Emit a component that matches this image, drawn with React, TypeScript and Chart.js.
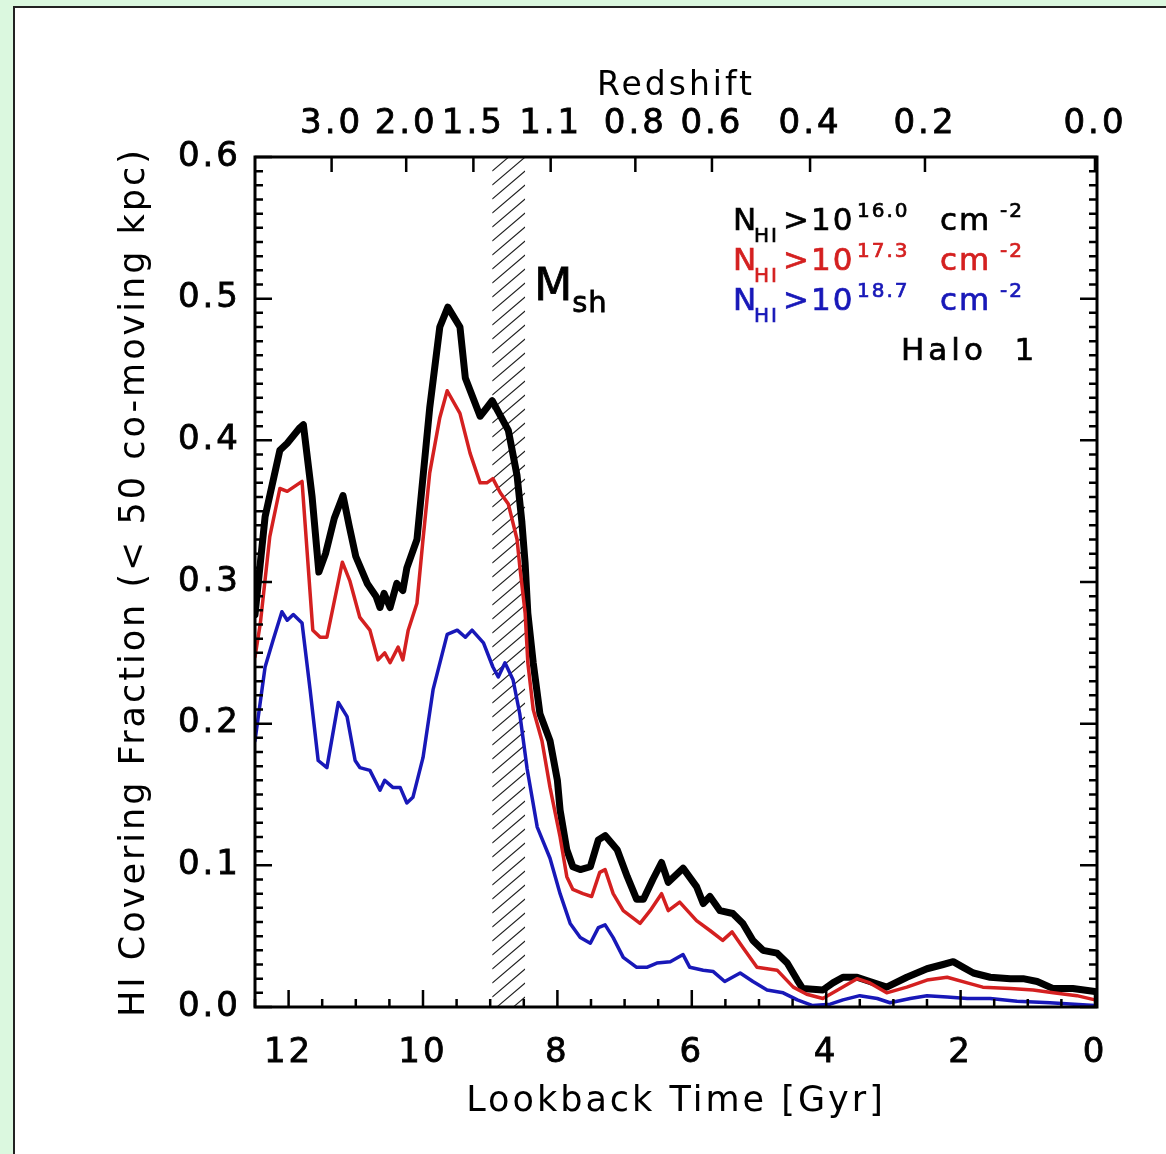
import React, { useEffect, useRef } from 'react';
import { Chart, registerables } from 'chart.js';

Chart.register(...registerables);

// ---- data (lookback time in Gyr, covering fraction) ----
const blackTime = [12.5, 12.35, 12.13, 12.02, 11.83, 11.78, 11.65, 11.55, 11.45, 11.32, 11.19, 11.1, 11.0, 10.83, 10.7, 10.64, 10.58, 10.49, 10.39, 10.3, 10.24, 10.09, 9.9, 9.75, 9.63, 9.45, 9.37, 9.15, 9.05, 8.97, 8.73, 8.6, 8.53, 8.48, 8.44, 8.36, 8.26, 8.11, 8.0, 7.96, 7.86, 7.77, 7.66, 7.51, 7.39, 7.29, 7.11, 6.96, 6.82, 6.72, 6.58, 6.45, 6.35, 6.13, 5.93, 5.83, 5.73, 5.58, 5.39, 5.24, 5.09, 4.94, 4.73, 4.58, 4.43, 4.35, 4.05, 3.9, 3.75, 3.54, 3.35, 3.1, 2.8, 2.5, 2.26, 2.11, 1.96, 1.81, 1.56, 1.26, 1.07, 0.86, 0.62, 0.33, 0.0];
const blackFrac = [0.277, 0.346, 0.393, 0.398, 0.409, 0.411, 0.36, 0.307, 0.32, 0.345, 0.361, 0.34, 0.318, 0.299, 0.29, 0.282, 0.292, 0.282, 0.299, 0.294, 0.31, 0.33, 0.423, 0.48, 0.494, 0.48, 0.444, 0.417, 0.423, 0.428, 0.407, 0.375, 0.343, 0.313, 0.278, 0.243, 0.207, 0.188, 0.16, 0.139, 0.111, 0.099, 0.097, 0.099, 0.118, 0.121, 0.111, 0.092, 0.076, 0.076, 0.09, 0.102, 0.088, 0.098, 0.085, 0.073, 0.078, 0.068, 0.066, 0.059, 0.047, 0.04, 0.038, 0.031, 0.019, 0.013, 0.012, 0.017, 0.021, 0.021, 0.018, 0.014, 0.021, 0.027, 0.03, 0.032, 0.028, 0.024, 0.021, 0.02, 0.02, 0.018, 0.013, 0.013, 0.011];

const redTime = [12.5, 12.42, 12.28, 12.13, 12.02, 11.8, 11.64, 11.53, 11.43, 11.2, 11.09, 10.94, 10.79, 10.67, 10.57, 10.49, 10.37, 10.3, 10.22, 10.09, 10.0, 9.9, 9.75, 9.64, 9.45, 9.3, 9.15, 9.05, 8.96, 8.85, 8.73, 8.6, 8.56, 8.48, 8.44, 8.36, 8.23, 8.11, 7.96, 7.86, 7.77, 7.62, 7.49, 7.37, 7.29, 7.17, 7.02, 6.77, 6.62, 6.45, 6.35, 6.18, 5.93, 5.73, 5.54, 5.4, 5.24, 5.03, 4.73, 4.49, 4.29, 4.05, 3.79, 3.54, 3.35, 3.1, 2.8, 2.5, 2.2, 1.9, 1.67, 1.26, 0.92, 0.62, 0.27, 0.0];
const redFrac = [0.247, 0.271, 0.332, 0.366, 0.364, 0.371, 0.266, 0.261, 0.261, 0.314, 0.301, 0.275, 0.266, 0.245, 0.25, 0.243, 0.254, 0.245, 0.266, 0.285, 0.33, 0.377, 0.416, 0.435, 0.419, 0.391, 0.37, 0.37, 0.373, 0.363, 0.355, 0.33, 0.311, 0.278, 0.243, 0.21, 0.188, 0.155, 0.12, 0.092, 0.083, 0.08, 0.078, 0.095, 0.097, 0.08, 0.068, 0.059, 0.068, 0.08, 0.068, 0.074, 0.061, 0.054, 0.047, 0.053, 0.042, 0.028, 0.026, 0.014, 0.009, 0.006, 0.013, 0.02, 0.017, 0.01, 0.014, 0.019, 0.021, 0.017, 0.014, 0.013, 0.012, 0.01, 0.008, 0.005];

const blueTime = [12.5, 12.35, 12.23, 12.1, 12.02, 11.93, 11.8, 11.68, 11.56, 11.43, 11.26, 11.13, 11.01, 10.94, 10.79, 10.64, 10.57, 10.45, 10.34, 10.24, 10.15, 10.0, 9.85, 9.64, 9.49, 9.37, 9.27, 9.1, 8.96, 8.88, 8.78, 8.66, 8.56, 8.45, 8.3, 8.11, 7.96, 7.81, 7.66, 7.51, 7.39, 7.29, 7.17, 7.02, 6.82, 6.67, 6.52, 6.32, 6.13, 6.03, 5.83, 5.68, 5.51, 5.28, 5.09, 4.88, 4.64, 4.43, 4.2, 3.94, 3.75, 3.5, 3.24, 3.05, 2.75, 2.5, 2.2, 1.9, 1.56, 1.16, 0.67, 0.0];
const blueFrac = [0.188, 0.24, 0.259, 0.279, 0.273, 0.277, 0.271, 0.224, 0.174, 0.169, 0.215, 0.205, 0.174, 0.169, 0.167, 0.153, 0.16, 0.155, 0.155, 0.144, 0.148, 0.176, 0.224, 0.263, 0.266, 0.261, 0.266, 0.257, 0.24, 0.233, 0.243, 0.231, 0.207, 0.168, 0.127, 0.105, 0.08, 0.059, 0.049, 0.045, 0.056, 0.058, 0.049, 0.035, 0.028, 0.028, 0.031, 0.032, 0.037, 0.028, 0.026, 0.025, 0.018, 0.024, 0.018, 0.012, 0.01, 0.005, 0.001, 0.002, 0.005, 0.008, 0.006, 0.003, 0.006, 0.008, 0.007, 0.006, 0.006, 0.004, 0.003, 0.001];

const lookbackTicks = [12, 10, 8, 6, 4, 2, 0];
const redshiftLabels = ['3.0', '2.0', '1.5', '1.1', '0.8', '0.6', '0.4', '0.2', '0.0'];
const redshiftTimes = [11.36, 10.25, 9.25, 8.1, 6.84, 5.7, 4.24, 2.53, 0.0];
const hatchRange = [8.97, 8.48];
const legendExponents = ['16.0', '17.3', '18.7'];
const seriesColors = ['#000000', '#d42020', '#1818b8'];

const FONT = '"DejaVu Sans", sans-serif';

const toPoints = (t: number[], v: number[]) => t.map((x, i) => ({ x, y: v[i] }));

function drawLegendRow(ctx: CanvasRenderingContext2D, x0: number, y0: number, color: string, exp: string) {
  const big = `31px ${FONT}`;
  const small = `20px ${FONT}`;
  const pieces: [number, string, string, number][] = [
    [0, 'N', big, 0],
    [21, 'HI', small, 12],
    [50, '>10', big, 0],
    [124, exp, small, -13],
    [207, 'cm', big, 0],
    [267, '-2', small, -13],
  ];
  ctx.fillStyle = color;
  ctx.strokeStyle = color;
  ctx.lineWidth = 0.7;
  ctx.textAlign = 'left';
  ctx.textBaseline = 'alphabetic';
  for (const [dx, txt, font, dy] of pieces) {
    ctx.font = font;
    ctx.fillText(txt, x0 + dx, y0 + dy);
    ctx.strokeText(txt, x0 + dx, y0 + dy);
  }
}

const decorPlugin = {
  id: 'decor',
  beforeDraw(chart: any) {
    chart.ctx.letterSpacing = '3px';
  },
  beforeDatasetsDraw(chart: any) {
    const { ctx, chartArea: a, scales } = chart;
    const x = scales.x;
    const x1 = x.getPixelForValue(hatchRange[0]);
    const x2 = x.getPixelForValue(hatchRange[1]);
    const w = x2 - x1;
    const rise = w * 0.85;
    ctx.save();
    ctx.beginPath();
    ctx.rect(x1, a.top, w, a.bottom - a.top);
    ctx.clip();
    ctx.beginPath();
    for (let yy = a.top - rise; yy < a.bottom + rise; yy += 14) {
      ctx.moveTo(x1, yy + rise);
      ctx.lineTo(x2, yy);
    }
    ctx.strokeStyle = '#222';
    ctx.lineWidth = 1.1;
    ctx.stroke();
    ctx.restore();
  },
  afterDraw(chart: any) {
    const { ctx, chartArea: a, scales } = chart;
    const x = scales.x;
    const y = scales.y;
    ctx.save();
    ctx.strokeStyle = '#000';
    ctx.lineCap = 'butt';
    // ticks
    ctx.lineWidth = 2.5;
    ctx.beginPath();
    for (let i = 0; i <= 60; i++) {
      const py = y.getPixelForValue(i / 100);
      const len = i % 10 === 0 ? 17 : 8;
      ctx.moveTo(a.left, py);
      ctx.lineTo(a.left + len, py);
      ctx.moveTo(a.right, py);
      ctx.lineTo(a.right - len, py);
    }
    for (let i = 0; i <= 25; i++) {
      const t = i * 0.5;
      const px = x.getPixelForValue(t);
      const len = i % 4 === 0 ? 17 : 8;
      ctx.moveTo(px, a.bottom);
      ctx.lineTo(px, a.bottom - len);
    }
    for (const t of redshiftTimes) {
      const px = x.getPixelForValue(t);
      ctx.moveTo(px, a.top);
      ctx.lineTo(px, a.top + 15);
    }
    ctx.stroke();
    // frame
    ctx.lineWidth = 3;
    ctx.strokeRect(a.left, a.top, a.right - a.left, a.bottom - a.top);

    // M_sh label
    ctx.letterSpacing = '1px';
    ctx.fillStyle = '#000';
    ctx.strokeStyle = '#000';
    ctx.lineWidth = 0.8;
    ctx.textAlign = 'left';
    ctx.textBaseline = 'alphabetic';
    const hx = x.getPixelForValue(hatchRange[1]);
    ctx.font = `44px ${FONT}`;
    ctx.fillText('M', hx + 9, 300);
    ctx.strokeText('M', hx + 9, 300);
    ctx.font = `29px ${FONT}`;
    ctx.fillText('sh', hx + 47, 312);
    ctx.strokeText('sh', hx + 47, 312);

    // legend
    ctx.letterSpacing = '2px';
    for (let i = 0; i < 3; i++) {
      drawLegendRow(ctx, 733, 230 + i * 40, seriesColors[i], legendExponents[i]);
    }
    ctx.letterSpacing = '4px';
    ctx.fillStyle = '#000';
    ctx.strokeStyle = '#000';
    ctx.lineWidth = 0.7;
    ctx.font = `31px ${FONT}`;
    ctx.fillText('Halo  1', 901, 360);
    ctx.strokeText('Halo  1', 901, 360);
    ctx.restore();
    ctx.letterSpacing = '3px';
  },
};

export default function App() {
  const ref = useRef<HTMLCanvasElement>(null);
  useEffect(() => {
    const tickFont = { family: FONT, size: 34 };
    const tickStyle = { color: '#000', font: tickFont, textStrokeColor: '#000', textStrokeWidth: 0.8 };
    const chart = new Chart(ref.current as HTMLCanvasElement, {
      type: 'line',
      data: {
        datasets: [
          {
            label: 'NHI>10^16.0',
            data: toPoints(blackTime, blackFrac),
            borderColor: seriesColors[0],
            borderWidth: 7,
            order: 3,
          },
          {
            label: 'NHI>10^17.3',
            data: toPoints(redTime, redFrac),
            borderColor: seriesColors[1],
            borderWidth: 3.5,
            order: 2,
          },
          {
            label: 'NHI>10^18.7',
            data: toPoints(blueTime, blueFrac),
            borderColor: seriesColors[2],
            borderWidth: 3.5,
            order: 1,
          },
        ],
      },
      options: {
        animation: false,
        responsive: false,
        devicePixelRatio: 1,
        layout: { padding: { left: 0, right: 69, top: 0, bottom: 0 } },
        elements: {
          point: { radius: 0 },
          line: { tension: 0, borderJoinStyle: 'round', borderCapStyle: 'round', fill: false },
        },
        plugins: { legend: { display: false }, tooltip: { enabled: false } },
        scales: {
          x: {
            type: 'linear',
            position: 'bottom',
            reverse: true,
            min: -0.03,
            max: 12.5,
            afterBuildTicks: (s: any) => {
              s.ticks = lookbackTicks.map((v) => ({ value: v }));
            },
            afterFit: (s: any) => {
              s.height = 147;
            },
            grid: { display: false, drawTicks: false },
            border: { display: false },
            ticks: {
              ...tickStyle,
              autoSkip: false,
              maxRotation: 0,
              padding: 26,
              callback: (v: any) => String(v),
            },
            title: {
              display: true,
              text: 'Lookback Time [Gyr]',
              color: '#000',
              font: { family: FONT, size: 35 },
              padding: { top: 0, bottom: 31 },
            },
          },
          x2: {
            type: 'linear',
            position: 'top',
            reverse: true,
            min: -0.03,
            max: 12.5,
            afterBuildTicks: (s: any) => {
              s.ticks = redshiftTimes.map((v) => ({ value: v }));
            },
            afterFit: (s: any) => {
              s.height = 157;
            },
            grid: { display: false, drawTicks: false },
            border: { display: false },
            ticks: {
              ...tickStyle,
              autoSkip: false,
              maxRotation: 0,
              padding: 12,
              callback: (_v: any, i: number) => redshiftLabels[i],
            },
            title: {
              display: true,
              text: 'Redshift',
              color: '#000',
              font: { family: FONT, size: 33 },
              padding: { top: 67, bottom: 0 },
            },
          },
          y: {
            type: 'linear',
            position: 'left',
            min: 0,
            max: 0.6,
            afterFit: (s: any) => {
              s.width = 255;
            },
            grid: { display: false, drawTicks: false },
            border: { display: false },
            ticks: {
              ...tickStyle,
              stepSize: 0.1,
              padding: 14,
              callback: (v: any) => Number(v).toFixed(1),
            },
            title: {
              display: true,
              text: 'HI Covering Fraction (< 50 co-moving kpc)',
              color: '#000',
              font: { family: FONT, size: 35 },
              padding: { top: 114, bottom: 0 },
            },
          },
        },
      },
      plugins: [decorPlugin],
    } as any);
    return () => chart.destroy();
  }, []);

  return (
    <div style={{ position: 'fixed', left: 0, top: 0, width: 1166, height: 1154, background: '#dbf8df', overflow: 'hidden' }}>
      <div
        style={{
          position: 'absolute',
          left: 13,
          top: 6,
          right: 0,
          bottom: 0,
          background: '#ffffff',
          borderLeft: '2px solid #222',
          borderTop: '2px solid #222',
        }}
      />
      <canvas ref={ref} width={1166} height={1154} style={{ position: 'absolute', left: 0, top: 0, width: 1166, height: 1154 }} />
    </div>
  );
}
